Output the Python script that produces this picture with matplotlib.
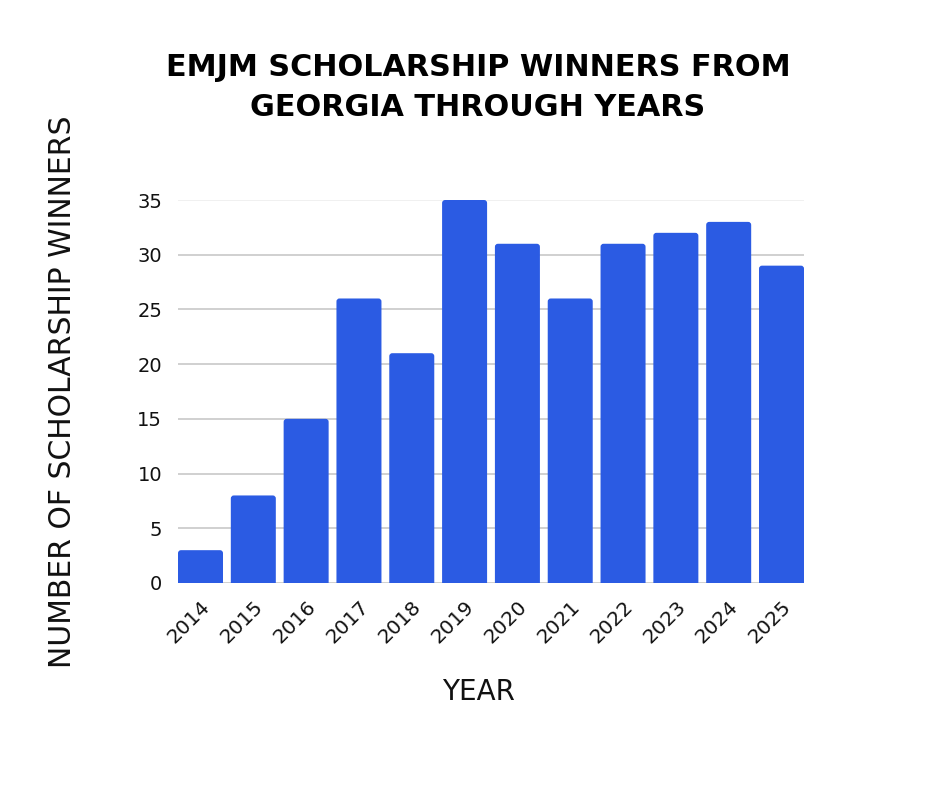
import matplotlib
matplotlib.use("Agg")
import matplotlib.pyplot as plt
from matplotlib.patches import FancyBboxPatch

years = ["2014", "2015", "2016", "2017", "2018", "2019", "2020", "2021", "2022", "2023", "2024", "2025"]
winners = [3, 8, 15, 26, 21, 35, 31, 26, 31, 32, 33, 29]
y_ticks = [0, 5, 10, 15, 20, 25, 30, 35]

plt.rcParams['font.family'] = ['DejaVu Sans']

W, H = 940, 788
fig = plt.figure(figsize=(W / 100, H / 100), dpi=100)
ax = fig.add_axes([178 / W, 1 - 583 / H, (804 - 178) / W, (583 - 200) / H])

bw = 0.852
x = list(range(len(years)))
bars = ax.bar(x, winners, width=bw, color="#2b5be3", zorder=3)
ax.set_xlim(-bw / 2, len(years) - 1 + bw / 2)
ax.set_ylim(0, 35)

# round the top corners (bottom is clipped by the axes)
px_x = (804 - 178) / (len(years) - 1 + bw)
px_y = (583 - 200) / 35
r = 3.0
for b in bars:
    bx, by = b.get_x(), b.get_y()
    bwid, bh = b.get_width(), b.get_height()
    b.set_visible(False)
    ext = r / px_y
    p = FancyBboxPatch((bx, by - ext), bwid, bh + ext,
                       boxstyle=f"round,pad=0,rounding_size={r / px_x}",
                       mutation_aspect=px_x / px_y,
                       fc="#2b5be3", ec="none", zorder=3)
    ax.add_patch(p)

ax.set_yticks(y_ticks)
ax.set_yticklabels([str(v) for v in y_ticks], fontsize=14, color="#111111")
ax.set_xticks(x)
ax.set_xticklabels(years, rotation=45, ha="right", rotation_mode="anchor", fontsize=14.5, color="#111111")
ax.tick_params(axis="both", length=0)
ax.tick_params(axis="y", pad=11.5)
ax.tick_params(axis="x", pad=10)

for v in y_ticks:
    c = "#eeeeee" if v == 35 else "#c8c8c8"
    ax.axhline(v, color=c, lw=1.2, zorder=1)
for s in ax.spines.values():
    s.set_visible(False)

fig.text(478 / W, 1 - 67 / H, "EMJM SCHOLARSHIP WINNERS FROM", ha="center", va="center",
         fontsize=21.8, fontweight="bold", color="#000000")
fig.text(478 / W, 1 - 108 / H, "GEORGIA THROUGH YEARS", ha="center", va="center",
         fontsize=21.8, fontweight="bold", color="#000000")
fig.text(63 / W, 1 - 392 / H, "NUMBER OF SCHOLARSHIP WINNERS", ha="center", va="center",
         rotation=90, fontsize=21.5, color="#111111")
fig.text(478 / W, 1 - 692 / H, "YEAR", ha="center", va="center", fontsize=20, color="#111111")

fig.savefig("out.png", dpi=100, facecolor="white")
